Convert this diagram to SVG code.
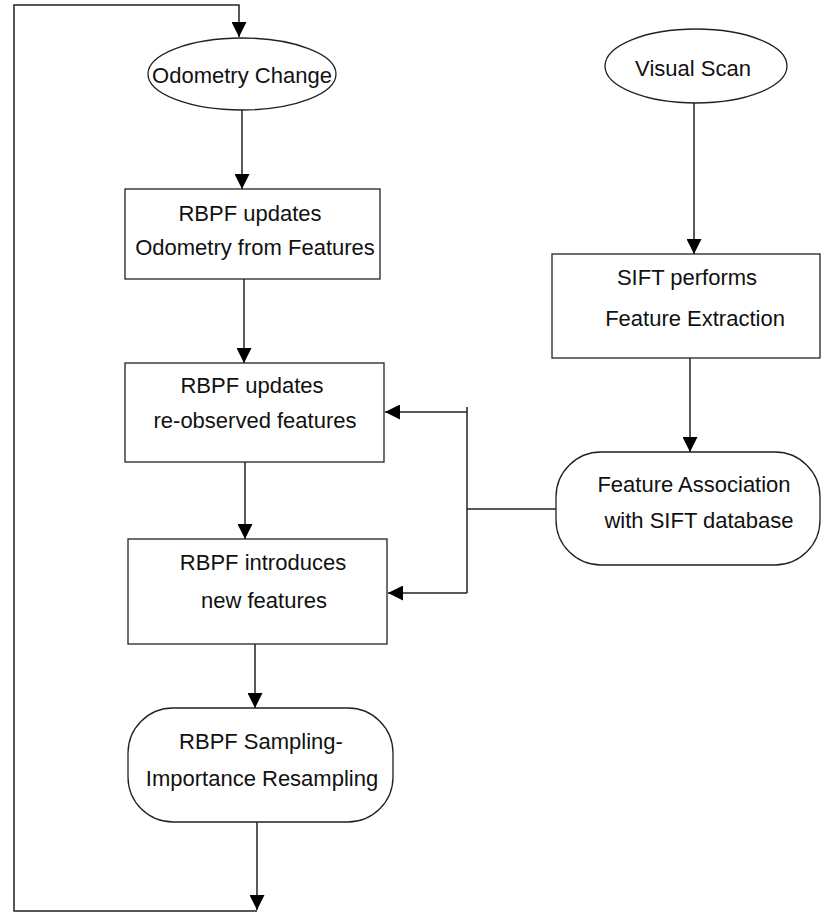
<svg xmlns="http://www.w3.org/2000/svg" width="821" height="915" viewBox="0 0 821 915">
<style>
.shape{fill:#fff;stroke:#222;stroke-width:1.3}
.conn{fill:none;stroke:#222;stroke-width:1.5}
text{font-family:"Liberation Sans",Arial,Helvetica,sans-serif;font-size:22px;fill:#111;text-anchor:middle}
</style>
<defs>
<marker id="arr" viewBox="0 0 10 10" refX="10" refY="5" markerWidth="15" markerHeight="15" markerUnits="userSpaceOnUse" orient="auto">
<path d="M0,0 L10,5 L0,10 z" fill="#000"/>
</marker>
</defs>
<rect width="821" height="915" fill="#fff"/>
<g id="connectors">
<path class="conn" d="M257,822 V910" marker-end="url(#arr)"/>
<path class="conn" d="M257,911 H14 V5 H239 V37" marker-end="url(#arr)"/>
<path class="conn" d="M242,110 V189" marker-end="url(#arr)"/>
<path class="conn" d="M244,279 V363" marker-end="url(#arr)"/>
<path class="conn" d="M245,462 V539" marker-end="url(#arr)"/>
<path class="conn" d="M255,644 V708" marker-end="url(#arr)"/>
<path class="conn" d="M694,103 V254" marker-end="url(#arr)"/>
<path class="conn" d="M690,358 V452" marker-end="url(#arr)"/>
<path class="conn" d="M556,509 H467"/>
<path class="conn" d="M467,407 V593"/>
<path class="conn" d="M467,412 H385" marker-end="url(#arr)"/>
<path class="conn" d="M467,593 H388" marker-end="url(#arr)"/>
</g>
<g id="odometry-change">
<ellipse class="shape" cx="242" cy="74" rx="94" ry="36"/>
<text x="242" y="83">Odometry Change</text>
</g>
<g id="visual-scan">
<ellipse class="shape" cx="696" cy="66" rx="91" ry="37"/>
<text x="693" y="76">Visual Scan</text>
</g>
<g id="rbpf-odometry">
<rect class="shape" x="125" y="189" width="255" height="90"/>
<text x="250" y="221">RBPF updates</text>
<text x="255" y="255">Odometry from Features</text>
</g>
<g id="rbpf-reobserved">
<rect class="shape" x="125" y="363" width="259" height="99"/>
<text x="252" y="393">RBPF updates</text>
<text x="255" y="428">re-observed features</text>
</g>
<g id="rbpf-new">
<rect class="shape" x="128" y="539" width="259" height="105"/>
<text x="263" y="570">RBPF introduces</text>
<text x="264" y="608">new features</text>
</g>
<g id="rbpf-sir">
<rect class="shape" x="128" y="708" width="265" height="114" rx="45" ry="45"/>
<text x="261" y="749">RBPF Sampling-</text>
<text x="262" y="786">Importance Resampling</text>
</g>
<g id="sift-extraction">
<rect class="shape" x="552" y="254" width="268" height="104"/>
<text x="687" y="285">SIFT performs</text>
<text x="695" y="326">Feature Extraction</text>
</g>
<g id="feature-association">
<rect class="shape" x="556" y="452" width="264" height="113" rx="45" ry="45"/>
<text x="694" y="492">Feature Association</text>
<text x="699" y="528">with SIFT database</text>
</g>
</svg>
